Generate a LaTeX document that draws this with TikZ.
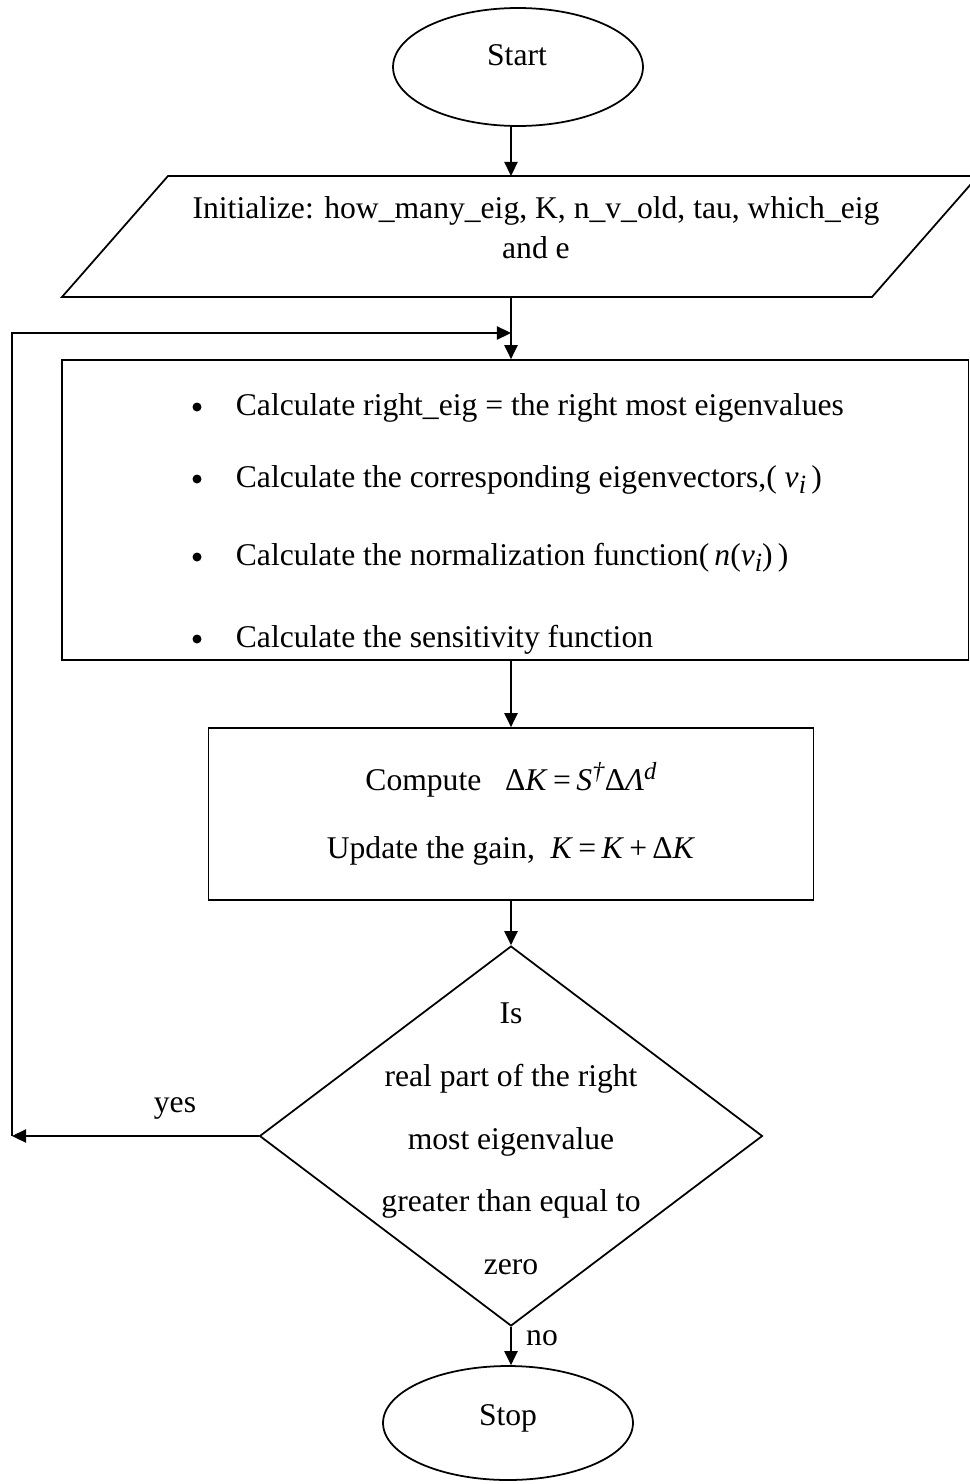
\documentclass[tikz,border=0pt]{standalone}
\usepackage{fontspec}
\setmainfont{Liberation Serif}
\usetikzlibrary{positioning,arrows.meta,shapes.geometric}

\newcommand{\supit}[1]{\raisebox{0.75ex}{\fontsize{14}{14}\selectfont\textit{#1}}}
\newcommand{\subit}[1]{\raisebox{-0.45ex}{\fontsize{15}{15}\selectfont\textit{#1}}}

\begin{document}
\begin{tikzpicture}[x=0.02cm, y=-0.02cm, line width=1pt, >={Triangle[length=8pt,width=7.5pt]},
    every node/.style={font=\fontsize{18}{22.7}\selectfont, inner sep=0pt},
    terminal/.style={draw, ellipse, inner sep=3pt, minimum width=5cm, minimum height=2.36cm},
    procbox/.style={draw, rectangle, align=center},
    decision/.style={draw, diamond, inner sep=3pt, minimum width=10.06cm, minimum height=7.6cm},
    bullet/.style={circle, fill, minimum size=0.18cm},
    item/.style={anchor=base west}]
    \useasboundingbox (0,0) rectangle (970,1484);

    % Nodes
    \coordinate (axis) at (511,0);
    \node[terminal] (start) at (518,67) {};
    \node (startText) at (517,55) {Start};

    % Input box (parallelogram, runs off the right edge)
    \coordinate (initTop) at (511,176);
    \coordinate (initBot) at (511,297);
    \draw (62,297) -- (168,176) -- (978,176) -- (872,297) -- cycle;
    \node[align=center, anchor=center] (initText) at (536,228)
        {Initialize: how\_many\_eig, K, n\_v\_old, tau, which\_eig\\and e};

    \node[procbox, minimum width=18.13cm, minimum height=6cm] (calc) at (515.25,510) {};
    \foreach \y in {415,487,565,647}
        \node[bullet] (dot\y) at (197,\y-8) {};
    \node[item] (calcA) at (235,415) {Calculate right\_eig = the right most eigenvalues};
    \node[item] (calcB) at (235,487) {Calculate the corresponding eigenvectors,(\ \textit{v}\subit{i}\,)};
    \node[item] (calcC) at (235,565) {Calculate the normalization function(\,\textit{n}(\textit{v}\subit{i})\,)};
    \node[item] (calcD) at (235,647) {Calculate the sensitivity function};

    \node[procbox, minimum width=12.1cm, minimum height=3.44cm,
        font=\fontsize{18}{39}\selectfont] (gain) at (511,814)
        {Compute\ \ \ Δ\textit{K}\,=\,\textit{S}\supit{†}Δ\textit{Λ}\supit{d}\\
         Update the gain,\ \ \textit{K}\,=\,\textit{K}\,+\,Δ\textit{K}};

    \node[decision] (check) at (511,1136) {};
    \node[align=center, font=\fontsize{18}{35.7}\selectfont] (checkText) at (511,1139)
        {Is\\real part of the right\\most eigenvalue\\greater than equal to\\zero};

    \node[terminal, minimum height=2.28cm] (stop) at (508,1423) {};
    \node (stopText) at (508,1418) {Stop};

    \node (yes) at (175,1108) {yes};
    \node (no) at (542,1338) {no};

    \coordinate (loopA) at (12,1136);
    \coordinate (loopB) at (511,333);

    % Arrows
    \draw[->] (start.south -| axis) -- (initTop);
    \draw[->] (initBot) -- (calc.north -| axis);
    \draw[->] (calc.south -| axis) -- (gain);
    \draw[->] (gain) -- (check);
    \draw[->] (check) -- (stop.north -| axis);

    % Loop back when the real part is not negative
    \draw[->] (check.west) -- (loopA);
    \draw[->] (loopA) |- (loopB);
\end{tikzpicture}
\end{document}
